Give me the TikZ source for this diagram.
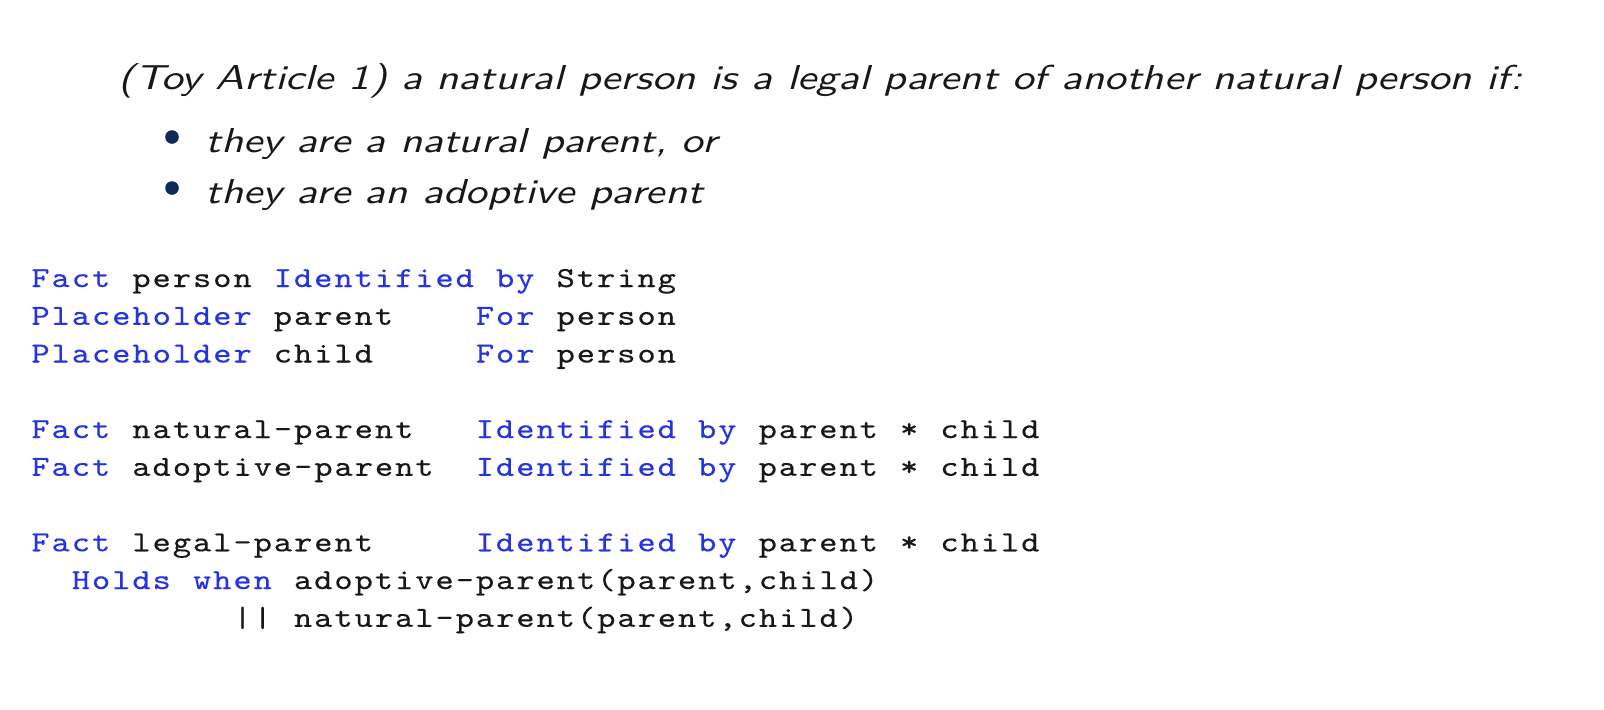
\documentclass[tikz,border=0pt]{standalone}
\usepackage{fontspec}
\newfontfamily\headfont[FakeStretch=1.25]{lmsans10-oblique.otf}
\newfontfamily\codefont[FakeStretch=1.2, LetterSpace=6.7, FakeBold=0.35]{lmmono10-regular.otf}
\definecolor{kwblue}{RGB}{38,52,222}
\definecolor{inkblack}{RGB}{24,24,24}
\definecolor{bulletnavy}{RGB}{16,42,88}

\begin{document}
\begin{tikzpicture}[x=0.5pt, y=-0.5pt,
            head/.style={anchor=base west, inner sep=0pt, text=inkblack, font=\headfont\fontsize{17.3pt}{20pt}\selectfont},
            bullet/.style={circle, fill=bulletnavy, inner sep=0pt, minimum size=6.8pt},
            code/.style={anchor=base west, inner sep=0pt, font=\codefont\fontsize{14.5pt}{18pt}\selectfont}
        ]
        \useasboundingbox (0,0) rectangle (1604,709);

        % column grid of the code listing
        \def\xo{31}
        \def\pitch{20.2}

        % the article text
        \node[head] (title) at (118,89) {(Toy Article 1) a natural person is a legal parent of another natural person if:};
        \foreach \y/\t [count=\n from 1] in {152/{they are a natural parent, or}, 203/{they are an adoptive parent}} {
                \node[bullet] (b\n) at (172,\y-15) {};
                \node[head] (item\n) at (205,\y) {\t};
            }

        % the code, one line at a time: column/text/colour
        \foreach \c/\t/\s in {0/Fact/kwblue, 5/person/inkblack, 12/Identified/kwblue, 23/by/kwblue, 26/String/inkblack} {
                \node[code, text=\s] (la\c) at ({\xo+\c*\pitch},287) {\t};
            }
        \foreach \c/\t/\s in {0/Placeholder/kwblue, 12/parent/inkblack, 22/For/kwblue, 26/person/inkblack} {
                \node[code, text=\s] (lb\c) at ({\xo+\c*\pitch},324.75) {\t};
            }
        \foreach \c/\t/\s in {0/Placeholder/kwblue, 12/child/inkblack, 22/For/kwblue, 26/person/inkblack} {
                \node[code, text=\s] (lc\c) at ({\xo+\c*\pitch},362.5) {\t};
            }
        \foreach \c/\t/\s in {0/Fact/kwblue, 5/natural-parent/inkblack, 22/Identified/kwblue, 33/by/kwblue, 36/parent/inkblack, 43/*/inkblack, 45/child/inkblack} {
                \node[code, text=\s] (ld\c) at ({\xo+\c*\pitch},438) {\t};
            }
        \foreach \c/\t/\s in {0/Fact/kwblue, 5/adoptive-parent/inkblack, 22/Identified/kwblue, 33/by/kwblue, 36/parent/inkblack, 43/*/inkblack, 45/child/inkblack} {
                \node[code, text=\s] (le\c) at ({\xo+\c*\pitch},475.75) {\t};
            }
        \foreach \c/\t/\s in {0/Fact/kwblue, 5/legal-parent/inkblack, 22/Identified/kwblue, 33/by/kwblue, 36/parent/inkblack, 43/*/inkblack, 45/child/inkblack} {
                \node[code, text=\s] (lf\c) at ({\xo+\c*\pitch},551.25) {\t};
            }
        \foreach \c/\t/\s in {2/Holds/kwblue, 8/when/kwblue, 13/{adoptive-parent(parent,child)}/inkblack} {
                \node[code, text=\s] (lg\c) at ({\xo+\c*\pitch},589) {\t};
            }
        \foreach \c/\t/\s in {10/{||}/inkblack, 13/{natural-parent(parent,child)}/inkblack} {
                \node[code, text=\s] (lh\c) at ({\xo+\c*\pitch},626.75) {\t};
            }
    \end{tikzpicture}
\end{document}
